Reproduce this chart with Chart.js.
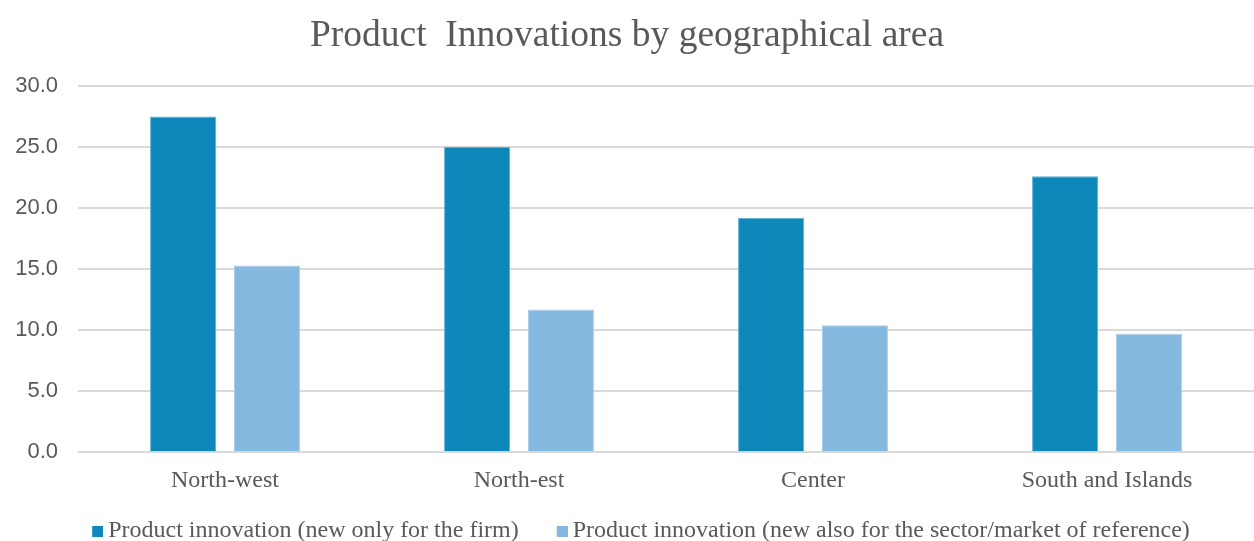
<!DOCTYPE html>
<html>
<head>
<meta charset="utf-8">
<script src="https://cdn.jsdelivr.net/npm/chart.js@4.4.1/dist/chart.umd.min.js"></script>
<style>
  html, body { margin: 0; padding: 0; background: #fff; overflow: hidden; }
  #wrap { width: 1254px; height: 553px; }
</style>
</head>
<body>
<div id="wrap"><canvas id="myChart"></canvas></div>
<script>
const areas = ["North-west", "North-est", "Center", "South and Islands"];
const onlyFirm = [27.5, 25.0, 19.2, 22.6];
const alsoSector = [15.3, 11.7, 10.4, 9.7];
const yTicks = [0, 5, 10, 15, 20, 25, 30];

const grey = "#595959";
const darkBlue = "#0e88ba";
const lightBlue = "#85b8df";
const serif = "'Liberation Serif', 'Times New Roman', serif";
const sans = "'Liberation Sans', Arial, sans-serif";

// legend marker: small square sitting at the right end of a wider transparent canvas,
// so the item keeps a gap before the square and a short gap before the text
function legendMarker(color) {
  const c = document.createElement("canvas");
  c.width = 46;
  c.height = 11;
  const g = c.getContext("2d");
  g.fillStyle = color;
  g.fillRect(35, 0, 11, 11);
  return c;
}

var ctx = document.getElementById("myChart");

var myChart = new Chart(ctx, {
  type: "bar",
  data: {
    labels: areas,
    datasets: [
      {
        label: "Product innovation (new only for the firm)",
        data: onlyFirm,
        backgroundColor: darkBlue,
        borderColor: "#5fb3d6",
        borderWidth: 1,
        pointStyle: legendMarker(darkBlue),
      },
      {
        label: "Product innovation (new also for the sector/market of reference)",
        data: alsoSector,
        backgroundColor: lightBlue,
        borderColor: "#a9cdea",
        borderWidth: 1,
        pointStyle: legendMarker(lightBlue),
      },
    ],
  },
  options: {
    responsive: true,
    maintainAspectRatio: false,
    animation: false,
    layout: { padding: { left: 0, right: 0, top: 4, bottom: 0 } },
    datasets: {
      bar: { categoryPercentage: 0.571, barPercentage: 0.786 },
    },
    plugins: {
      title: {
        display: true,
        text: "Product  Innovations by geographical area",
        color: grey,
        font: { family: serif, size: 37.5, weight: "normal" },
        padding: { top: 10, bottom: 27 },
      },
      legend: {
        position: "bottom",
        labels: {
          color: grey,
          font: { family: serif, size: 24 },
          usePointStyle: true,
          pointStyleWidth: 32,
          boxHeight: 11,
          padding: 10,
        },
      },
      tooltip: { enabled: false },
    },
    scales: {
      x: {
        grid: { display: false, drawTicks: false },
        border: { display: false },
        ticks: { color: grey, font: { family: serif, size: 24 }, padding: 14 },
      },
      y: {
        min: 0,
        max: 30,
        afterBuildTicks: (axis) => {
          axis.ticks = yTicks.map((v) => ({ value: v }));
        },
        afterFit: (axis) => {
          axis.width = 78;
        },
        grid: { color: "#d9d9d9", lineWidth: 2, drawTicks: false },
        border: { display: false },
        ticks: {
          color: grey,
          font: { family: sans, size: 22 },
          padding: 20,
          callback: (v) => v.toFixed(1),
        },
      },
    },
  },
});
</script>
</body>
</html>
